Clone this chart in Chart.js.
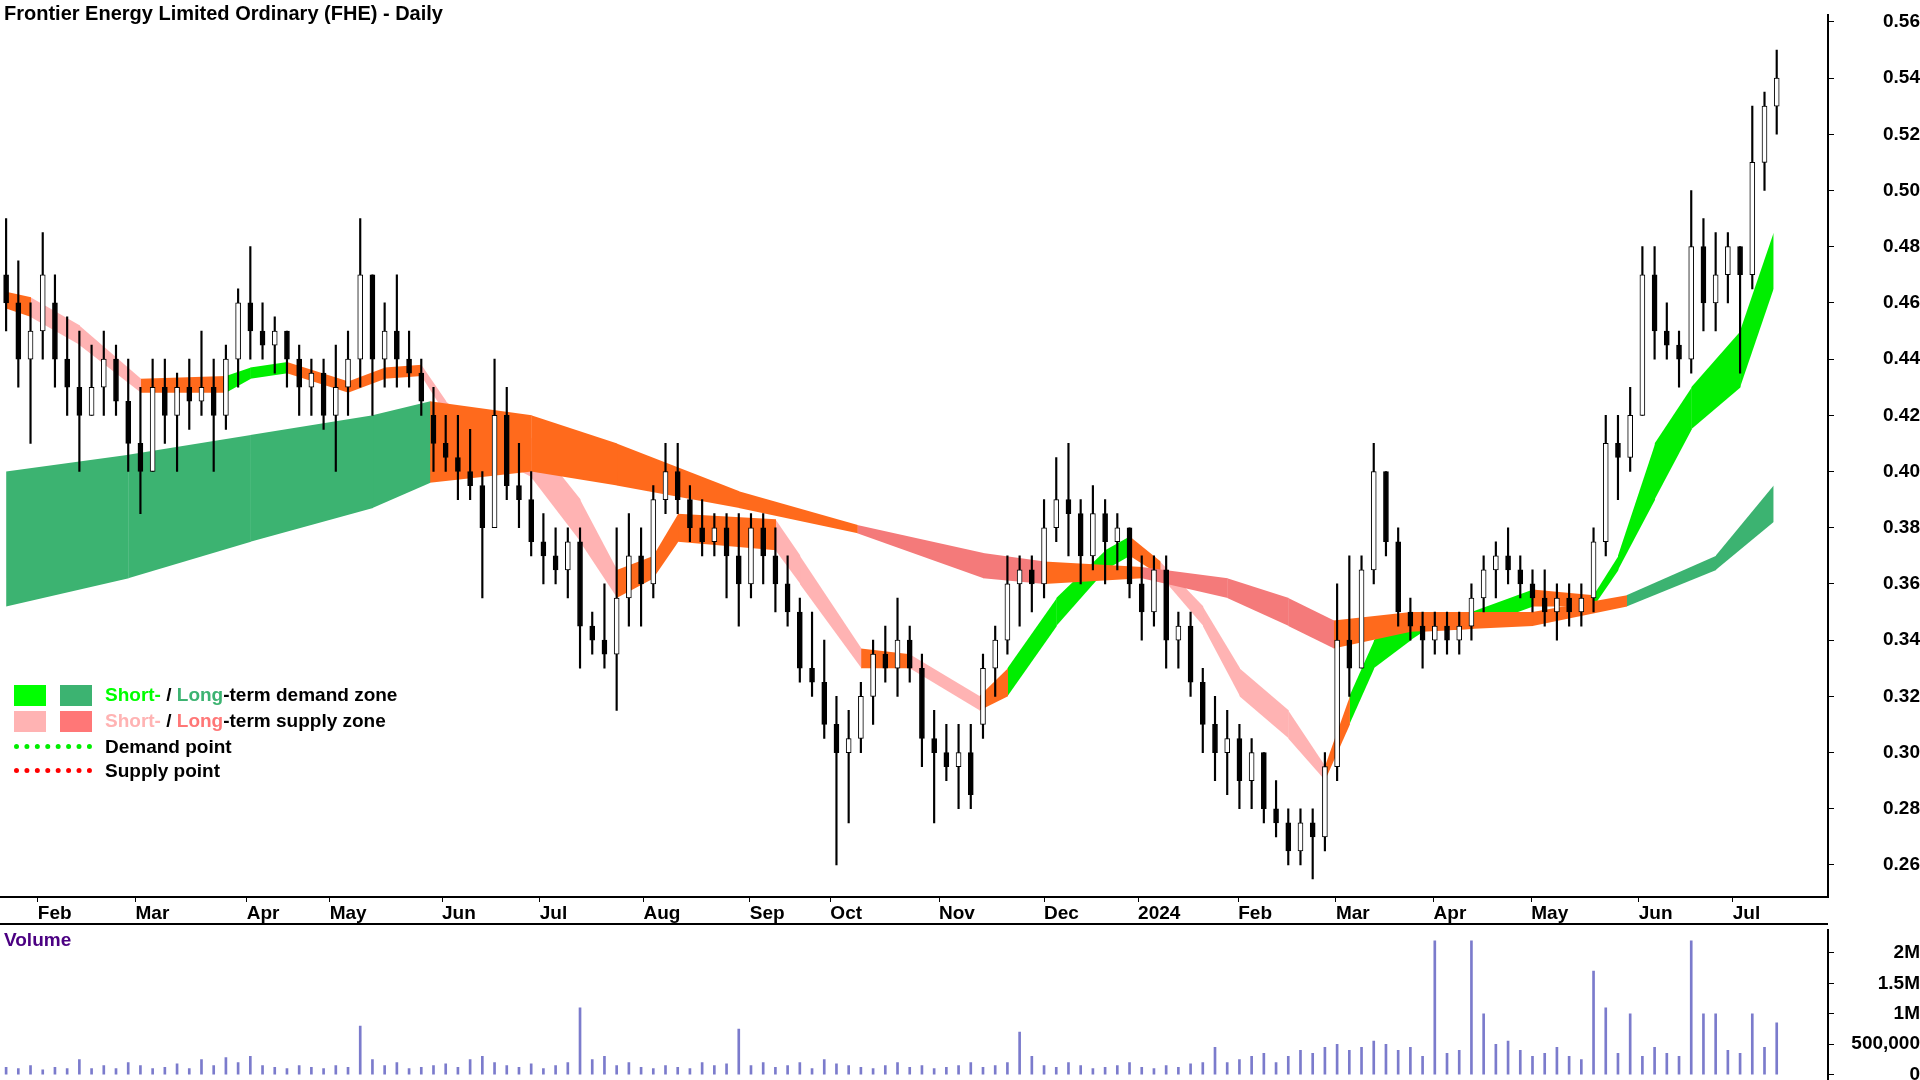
<!DOCTYPE html>
<html><head><meta charset="utf-8">
<script src="https://cdn.jsdelivr.net/npm/chart.js@4.4.1/dist/chart.umd.min.js"></script>
<style>
body{margin:0;background:#fff;width:1920px;height:1080px;overflow:hidden;font-family:"Liberation Sans",Arial,sans-serif;position:relative;}
#c1{position:absolute;left:0;top:0;}
#c2{position:absolute;left:0;top:915px;}
.t{position:absolute;font-weight:bold;font-size:19px;color:#000;white-space:nowrap;}
.sq{position:absolute;width:32px;height:21px;}
.dot{position:absolute;width:78px;height:0;border-top:5px dotted;}
#sep{position:absolute;left:0;top:923px;width:1828px;height:2px;background:#000;}
</style></head><body>
<canvas id="c1" width="1920" height="925"></canvas>
<canvas id="c2" width="1920" height="183"></canvas>
<div id="sep"></div>
<div class="t" style="left:4px;top:2px;font-size:20px;">Frontier Energy Limited Ordinary (FHE) - Daily</div>
<div class="t" style="left:4px;top:929px;color:#4b0082;">Volume</div>
<div class="sq" style="left:14px;top:685px;background:#00ff00"></div>
<div class="sq" style="left:60px;top:685px;background:#3cb371"></div>
<div class="t" style="left:105px;top:684px;"><span style="color:#00ff00">Short-</span> / <span style="color:#3cb371">Long</span>-term demand zone</div>
<div class="sq" style="left:14px;top:711px;background:#ffb3b3"></div>
<div class="sq" style="left:60px;top:711px;background:#ff7777"></div>
<div class="t" style="left:105px;top:710px;"><span style="color:#ffb3b3">Short-</span> / <span style="color:#ff7777">Long</span>-term supply zone</div>
<div class="dot" style="left:14px;top:744px;border-color:#00ee00"></div>
<div class="t" style="left:105px;top:736px;">Demand point</div>
<div class="dot" style="left:14px;top:768px;border-color:#ff0000"></div>
<div class="t" style="left:105px;top:760px;">Supply point</div>
<script>
const opens =[.47,.46,.44,.45,.46,.44,.43,.42,.43,.44,.425,.41,.40,.43,.42,.43,.425,.43,.42,.44,.46,.45,.445,.45,.44,.43,.435,.42,.43,.44,.47,.44,.45,.44,.435,.42,.41,.405,.40,.395,.38,.42,.395,.39,.375,.37,.365,.375,.345,.34,.335,.355,.37,.36,.39,.40,.39,.38,.375,.38,.37,.36,.38,.37,.36,.35,.33,.325,.31,.30,.305,.32,.335,.33,.34,.33,.305,.30,.295,.30,.31,.33,.34,.36,.365,.36,.38,.39,.385,.37,.385,.375,.38,.36,.35,.365,.34,.345,.325,.31,.30,.305,.29,.30,.28,.275,.265,.275,.27,.295,.34,.33,.365,.40,.375,.35,.345,.34,.345,.34,.345,.355,.365,.37,.365,.36,.355,.35,.355,.35,.355,.375,.41,.405,.42,.47,.45,.445,.44,.48,.46,.47,.48,.47,.51,.53];
const highs =[.49,.475,.46,.485,.47,.455,.45,.445,.45,.445,.44,.43,.44,.44,.435,.44,.45,.44,.445,.465,.48,.46,.455,.45,.445,.44,.44,.445,.45,.49,.47,.46,.47,.45,.44,.43,.42,.42,.415,.40,.44,.43,.41,.40,.385,.38,.38,.38,.35,.36,.38,.385,.38,.395,.41,.41,.395,.39,.385,.385,.385,.385,.385,.38,.37,.355,.35,.34,.32,.315,.325,.34,.345,.355,.345,.335,.315,.31,.31,.31,.335,.345,.37,.37,.37,.39,.405,.41,.39,.395,.39,.385,.38,.37,.37,.37,.35,.35,.33,.32,.315,.31,.305,.30,.29,.28,.28,.28,.30,.36,.37,.37,.41,.40,.38,.355,.35,.35,.35,.35,.36,.37,.375,.38,.37,.365,.365,.36,.36,.36,.38,.42,.42,.43,.48,.48,.46,.45,.50,.49,.485,.485,.48,.53,.535,.55];
const lows  =[.45,.43,.41,.44,.43,.42,.40,.42,.42,.42,.40,.385,.40,.41,.40,.415,.42,.40,.415,.43,.44,.44,.435,.43,.42,.42,.415,.40,.42,.43,.42,.43,.43,.43,.42,.40,.40,.39,.39,.355,.38,.39,.38,.37,.36,.36,.355,.33,.335,.33,.315,.345,.345,.355,.385,.385,.375,.37,.37,.355,.345,.355,.36,.35,.345,.325,.32,.305,.26,.275,.30,.31,.325,.32,.325,.295,.275,.29,.28,.28,.305,.32,.335,.345,.35,.355,.375,.37,.36,.365,.36,.365,.355,.34,.345,.33,.33,.32,.30,.29,.285,.28,.28,.275,.27,.26,.26,.255,.265,.29,.32,.33,.36,.37,.345,.34,.33,.335,.335,.335,.34,.35,.355,.36,.355,.35,.345,.34,.345,.345,.35,.37,.39,.40,.42,.44,.44,.43,.435,.45,.45,.46,.435,.465,.50,.52];
const closes=[.46,.44,.45,.47,.44,.43,.42,.43,.44,.425,.41,.40,.43,.42,.43,.425,.43,.42,.44,.46,.45,.445,.45,.44,.43,.435,.42,.43,.44,.47,.44,.45,.44,.435,.425,.41,.405,.40,.395,.38,.42,.395,.39,.375,.37,.365,.375,.345,.34,.335,.355,.37,.36,.39,.40,.39,.38,.375,.38,.37,.36,.38,.37,.36,.35,.33,.325,.31,.30,.305,.32,.335,.33,.34,.33,.305,.30,.295,.30,.285,.33,.34,.36,.365,.36,.38,.39,.385,.37,.385,.375,.38,.36,.35,.365,.34,.345,.325,.31,.30,.305,.29,.30,.28,.275,.265,.275,.27,.295,.34,.33,.365,.40,.375,.35,.345,.34,.345,.34,.345,.355,.365,.37,.365,.36,.355,.35,.355,.35,.355,.375,.41,.405,.42,.47,.45,.445,.44,.48,.46,.47,.48,.47,.51,.53,.54];
const volumesM=[.12,.1,.15,.08,.12,.1,.25,.1,.15,.1,.2,.15,.1,.12,.18,.1,.25,.15,.28,.2,.3,.15,.12,.1,.15,.12,.1,.15,.12,.8,.25,.15,.2,.1,.12,.15,.18,.12,.25,.3,.2,.15,.12,.18,.1,.15,.2,1.1,.25,.3,.15,.2,.12,.1,.15,.12,.1,.2,.15,.18,.75,.15,.2,.12,.15,.2,.1,.25,.18,.15,.12,.1,.15,.2,.12,.15,.1,.12,.15,.2,.12,.15,.2,.7,.3,.15,.12,.2,.15,.1,.12,.15,.2,.12,.1,.15,.12,.18,.2,.45,.2,.25,.3,.35,.2,.3,.4,.35,.45,.5,.4,.45,.55,.5,.4,.45,.3,2.2,.35,.4,2.2,1.0,.5,.55,.4,.3,.35,.45,.3,.25,1.7,1.1,.35,1.0,.3,.45,.35,.3,2.2,1.0,1.0,.4,.35,1.0,.45,.85];
const monthTicks=[2.6,10.6,19.7,26.5,35.7,43.7,52.2,60.9,67.5,76.4,85,92.7,100.9,108.9,116.9,124.9,133.7,141.4];
const monthLabels=["Feb","Mar","Apr","May","Jun","Jul","Aug","Sep","Oct","Nov","Dec","2024","Feb","Mar","Apr","May","Jun","Jul"];
const priceTicks=[0.26,0.28,0.30,0.32,0.34,0.36,0.38,0.40,0.42,0.44,0.46,0.48,0.50,0.52,0.54,0.56];
const volumeTicks=[0,500000,1000000,1500000,2000000];
// bands: [index, lower, upper, zone of following segment]
const longBand=[[0,.352,.400,"DG"],[10,.362,.406,"DG"],[20,.375,.413,"DG"],[30,.387,.420,"DG"],[34.7,.396,.425,"OR"],[43,.400,.420,"OR"],[50,.395,.410,"OR"],[60,.387,.393,"OR"],[69.7,.378,.381,"SA"],[80,.362,.371,"SA"],[85,.360,.368,"OR"],[93,.362,.366,"SA"],[100,.355,.362,"SA"],[105,.345,.355,"SA"],[108.7,.337,.347,"OR"],[115,.343,.350,"OR"],[125,.345,.350,"OR"],[132.7,.352,.356,"DG"],[140,.365,.370,"DG"],[144.7,.382,.395,"DG"]];
const shortBand=[[0,.458,.464,"OR"],[2,.455,.462,"PK"],[6,.445,.452,"PK"],[11,.428,.433,"OR"],[18,.428,.434,"GR"],[20,.433,.437,"GR"],[23,.435,.439,"OR"],[28,.428,.432,"OR"],[31,.433,.437,"OR"],[34,.434,.438,"PK"],[36,.420,.425,"PK"],[40,.405,.410,"PK"],[43,.398,.412,"PK"],[47,.375,.390,"PK"],[50,.355,.365,"OR"],[53,.362,.370,"OR"],[55,.375,.385,"OR"],[63,.372,.383,"PK"],[65,.360,.370,"PK"],[70,.330,.337,"OR"],[74,.330,.335,"PK"],[79.7,.315,.320,"OR"],[82,.320,.330,"GR"],[86,.345,.355,"GR"],[90,.365,.372,"GR"],[92,.370,.377,"OR"],[94.5,.363,.368,"PK"],[98,.345,.352,"PK"],[101,.320,.330,"PK"],[105,.305,.315,"PK"],[108,.290,.295,"OR"],[110,.310,.320,"GR"],[112,.330,.340,"GR"],[115,.340,.350,"GR"],[116,.343,.350,"OR"],[120,.344,.350,"GR"],[125,.352,.358,"OR"],[130,.352,.356,"GR"],[132,.365,.370,"GR"],[135,.390,.410,"GR"],[138,.415,.430,"GR"],[142,.430,.450,"GR"],[144.7,.465,.485,"GR"]];
const zoneColors={DG:"#3cb371",GR:"#00ee00",OR:"#ff6a1c",PK:"#ffb3b3",SA:"#f47a7a"};

function bandSets(band){
  const out=[];
  for(let k=0;k<band.length-1;k++){
    const a=band[k],b=band[k+1],c=zoneColors[a[3]];
    out.push({type:'line',data:[{x:a[0],y:a[1]},{x:b[0]+0.05,y:b[1]}],borderWidth:0,pointRadius:0,fill:false,borderColor:c,backgroundColor:c});
    out.push({type:'line',data:[{x:a[0],y:a[2]},{x:b[0]+0.05,y:b[2]}],borderWidth:0,pointRadius:0,fill:'-1',borderColor:c,backgroundColor:c});
  }
  return out;
}
const idx=closes.map((_,i)=>i);
const wicks=idx.map(i=>({x:i,y:[lows[i],highs[i]]}));
const bodies=idx.map(i=>{let lo=Math.min(opens[i],closes[i]),hi=Math.max(opens[i],closes[i]);if(hi-lo<0.002){hi+=0.001;lo-=0.001;}return {x:i,y:[lo,hi]};});
const bodyFill=idx.map(i=>closes[i]<opens[i]?"#000":"#fff");

const font={family:"'Liberation Sans',Arial",size:19,weight:'bold'};
const xOpts={type:'linear',min:-0.5,max:149.2,offset:false,
  afterBuildTicks:s=>{s.ticks=monthTicks.map(v=>({value:v}));},
  afterFit:s=>{s.height=28;},
  ticks:{autoSkip:false,maxRotation:0,align:'start',color:'#000',font,padding:0,
    callback:(v,i)=>monthLabels[i]},
  grid:{drawOnChartArea:false,offset:false,color:'#000',tickLength:5},border:{color:'#000',width:2}};
new Chart(document.getElementById('c1'),{
  data:{datasets:[...bandSets(longBand),...bandSets(shortBand),
    {type:'bar',data:wicks,backgroundColor:'#000',barThickness:1.5,grouped:false,order:-1},
    {type:'bar',data:bodies,backgroundColor:bodyFill,borderColor:'#000',borderWidth:1,borderSkipped:false,barThickness:5,grouped:false,order:-2}]},
  options:{responsive:false,animation:false,layout:{padding:0,autoPadding:false},
    plugins:{legend:{display:false},tooltip:{enabled:false}},
    scales:{x:xOpts,
      y:{position:'right',min:0.2486,max:0.5623,
        afterBuildTicks:s=>{s.ticks=priceTicks.map(v=>({value:v}));},
        afterFit:s=>{s.width=92;},
        ticks:{color:'#000',font,crossAlign:'far',padding:4,callback:v=>v.toFixed(2)},
        grid:{drawOnChartArea:false,color:'#000',tickLength:6},border:{color:'#000',width:2}}}}
});
new Chart(document.getElementById('c2'),{
  data:{datasets:[{type:'bar',data:idx.map(i=>({x:i,y:volumesM[i]*1e6})),backgroundColor:'#7b7bcc',barThickness:2}]},
  options:{responsive:false,animation:false,layout:{padding:0,autoPadding:false},
    plugins:{legend:{display:false},tooltip:{enabled:false}},
    scales:{x:{type:'linear',min:-0.5,max:149.2,offset:false,display:false},
      y:{position:'right',min:-130000,max:2370000,
        afterBuildTicks:s=>{s.ticks=volumeTicks.map(v=>({value:v}));},
        afterFit:s=>{s.width=92;},
        ticks:{color:'#000',font,crossAlign:'far',padding:4,callback:v=>v===0?'0':v===500000?'500,000':(v/1e6)+'M'},
        grid:{drawOnChartArea:false,color:'#000',tickLength:6},border:{color:'#000',width:2}}}}
});
</script></body></html>
